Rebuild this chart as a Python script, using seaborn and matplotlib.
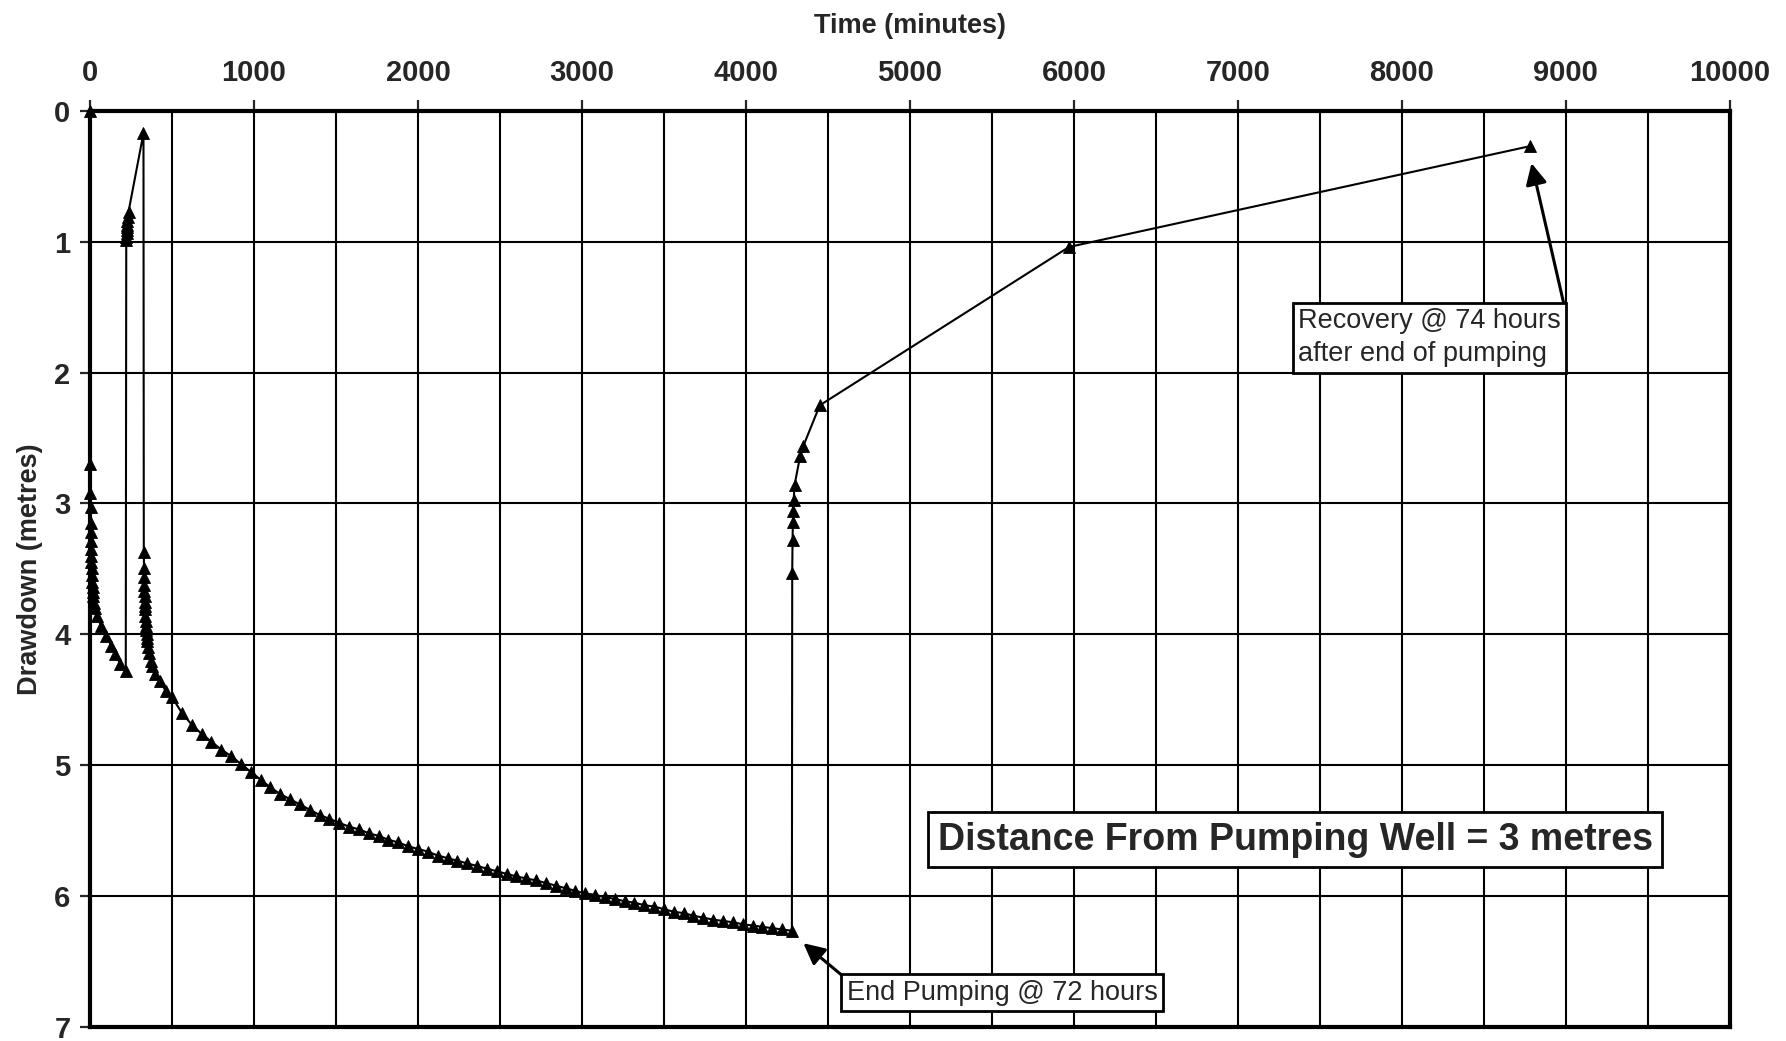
import numpy as np
import pandas as pd
import seaborn as sns
import matplotlib.pyplot as plt

# first pumping period (minutes, metres)
pump1_time = [0, 1, 2, 3, 4, 5, 6, 7, 8, 9, 10, 12, 14, 16, 18, 20, 25, 30,
              40, 70, 100, 130, 155, 185, 218]
pump1_drawdown = [0, 2.70, 2.92, 3.03, 3.15, 3.22, 3.29, 3.35, 3.40, 3.45, 3.49,
                  3.55, 3.60, 3.64, 3.68, 3.71, 3.76, 3.80, 3.86, 3.94, 4.01,
                  4.09, 4.15, 4.23, 4.28]

# short recovery before restart
rec1_time = [221, 222, 223, 224, 225, 226, 228, 230, 235, 326]
rec1_drawdown = [0.99, 0.96, 0.93, 0.91, 0.89, 0.87, 0.84, 0.81, 0.77, 0.17]

# second pumping period, early readings
pump2_early_time = [328, 329, 330, 331, 332, 333, 334, 335, 336, 338, 340, 342,
                    344, 346, 348, 350, 355, 360, 370, 380, 396, 426, 461]
pump2_early_drawdown = [3.37, 3.49, 3.56, 3.62, 3.67, 3.71, 3.75, 3.78, 3.81,
                        3.86, 3.90, 3.94, 3.97, 4.00, 4.03, 4.05, 4.10, 4.14,
                        4.20, 4.24, 4.30, 4.36, 4.43]

# second pumping period, hourly readings
pump2_time = [500, 560, 620, 680, 740, 800, 860, 920, 980, 1040, 1100, 1160,
              1220, 1280, 1340, 1400, 1460, 1520, 1580, 1640, 1700, 1760, 1820,
              1880, 1940, 2000, 2060, 2120, 2180, 2240, 2300, 2360, 2420, 2480,
              2540, 2600, 2660, 2720, 2780, 2840, 2900, 2960, 3020, 3080, 3140,
              3200, 3260, 3320, 3380, 3440, 3500, 3560, 3620, 3680, 3740, 3800,
              3860, 3920, 3980, 4040, 4100, 4160, 4220, 4280]
pump2_drawdown = [4.48, 4.60, 4.69, 4.76, 4.82, 4.88, 4.93, 4.99, 5.05, 5.11,
                  5.17, 5.22, 5.26, 5.30, 5.34, 5.38, 5.41, 5.44, 5.47, 5.49,
                  5.52, 5.54, 5.57, 5.59, 5.62, 5.64, 5.66, 5.69, 5.71, 5.73,
                  5.75, 5.77, 5.79, 5.81, 5.83, 5.85, 5.865, 5.88, 5.90, 5.92,
                  5.94, 5.96, 5.98, 5.99, 6.01, 6.02, 6.04, 6.05, 6.07, 6.08,
                  6.10, 6.12, 6.13, 6.15, 6.165, 6.18, 6.19, 6.20, 6.215, 6.225,
                  6.235, 6.245, 6.255, 6.265]

# recovery after end of pumping
rec2_time = [4282, 4284, 4286, 4288, 4291, 4296, 4330, 4350, 4450, 5970, 8780]
rec2_drawdown = [3.53, 3.28, 3.14, 3.06, 2.97, 2.86, 2.64, 2.56, 2.25, 1.04, 0.27]

x_ticks = [0, 1000, 2000, 3000, 4000, 5000, 6000, 7000, 8000, 9000, 10000]
x_minor = [500, 1500, 2500, 3500, 4500, 5500, 6500, 7500, 8500, 9500]
y_ticks = [0, 1, 2, 3, 4, 5, 6, 7]

df = pd.DataFrame({
    "Time": pump1_time + rec1_time + pump2_early_time + pump2_time + rec2_time,
    "Drawdown": pump1_drawdown + rec1_drawdown + pump2_early_drawdown
                + pump2_drawdown + rec2_drawdown,
})

sns.set_theme(style="ticks")
plt.rcParams["font.family"] = ["Liberation Sans", "DejaVu Sans"]

fig = plt.figure(figsize=(17.86, 10.41), dpi=100)
ax = fig.add_axes([0.0504, 0.0135, 0.9182, 0.880])

sns.lineplot(
    data=df,
    x="Time",
    y="Drawdown",
    sort=False,
    estimator=None,
    color="black",
    linewidth=1.5,
    marker="^",
    markersize=9,
    markeredgecolor="black",
    markerfacecolor="black",
    markeredgewidth=0.6,
    ax=ax,
    zorder=4,
    clip_on=False,
)

ax.set_xlim(0, 10000)
ax.set_ylim(7, 0)
ax.xaxis.tick_top()
ax.xaxis.set_label_position("top")
ax.set_xticks(x_ticks)
ax.set_xticks(x_minor, minor=True)
ax.set_yticks(y_ticks)

ax.grid(which="major", axis="both", color="black", linewidth=1.5)
ax.grid(which="minor", axis="x", color="black", linewidth=1.5)
ax.set_axisbelow(True)

ax.tick_params(axis="x", which="major", length=8, width=1.6, pad=9,
               labelsize=21, top=True, bottom=False)
ax.tick_params(axis="x", which="minor", length=0)
ax.tick_params(axis="y", which="major", length=7, width=1.6, pad=7,
               labelsize=21)
for lab in ax.get_xticklabels() + ax.get_yticklabels():
    lab.set_fontweight("bold")

for side in ["top", "bottom", "left", "right"]:
    ax.spines[side].set_visible(True)
    ax.spines[side].set_linewidth(3)
    ax.spines[side].set_color("black")

ax.set_xlabel("Time (minutes)", fontsize=19.5, fontweight="bold", labelpad=19)
ax.set_ylabel("Drawdown (metres)", fontsize=19.5, fontweight="bold", labelpad=8)

box = dict(boxstyle="square,pad=0.2", facecolor="white", edgecolor="black",
           linewidth=2)

ax.text(7348, 5.57, "Distance From Pumping Well = 3 metres", fontsize=27,
        fontweight="bold", ha="center", va="center", zorder=6,
        bbox=dict(boxstyle="square,pad=0.25", facecolor="white",
                  edgecolor="black", linewidth=2))

ax.text(7366, 1.51, "Recovery @ 74 hours\nafter end of pumping", fontsize=19.5,
        ha="left", va="top", linespacing=1.35, zorder=6, bbox=box)

ax.text(4614, 6.64, "End Pumping @ 72 hours", fontsize=19.5,
        ha="left", va="top", zorder=6, bbox=box)

arrow = dict(arrowstyle="-|>", color="black", lw=2.2, mutation_scale=32,
             shrinkA=0, shrinkB=0)
ax.annotate("", xy=(8790, 0.40), xytext=(8990, 1.49), arrowprops=arrow, zorder=5)
ax.annotate("", xy=(4350, 6.36), xytext=(4580, 6.60), arrowprops=arrow, zorder=5)

fig.savefig("out.png", dpi=100, facecolor="white")
